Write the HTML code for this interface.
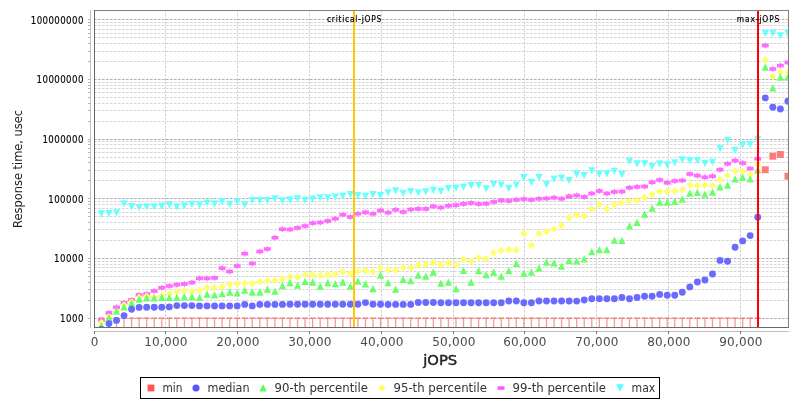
<!DOCTYPE html><html><head><meta charset="utf-8"><style>html,body{margin:0;padding:0;background:#fff;overflow:hidden}svg{display:block}</style></head><body><svg width="800" height="400" viewBox="0 0 800 400"><rect x="0" y="0" width="800" height="400" fill="#fff"/><g><line x1="94" y1="318.5" x2="788" y2="318.5" stroke="#b0b0b0" stroke-width="1" stroke-dasharray="2.6,1.4"/><line x1="88" y1="318.5" x2="90" y2="318.5" stroke="#b4b4b4" stroke-width="1"/><line x1="94" y1="300.5" x2="788" y2="300.5" stroke="#d5d5d5" stroke-width="1" stroke-dasharray="2.6,1.4"/><line x1="88" y1="300.5" x2="90" y2="300.5" stroke="#b4b4b4" stroke-width="1"/><line x1="94" y1="289.5" x2="788" y2="289.5" stroke="#d5d5d5" stroke-width="1" stroke-dasharray="2.6,1.4"/><line x1="88" y1="289.5" x2="90" y2="289.5" stroke="#b4b4b4" stroke-width="1"/><line x1="94" y1="282.5" x2="788" y2="282.5" stroke="#d5d5d5" stroke-width="1" stroke-dasharray="2.6,1.4"/><line x1="88" y1="282.5" x2="90" y2="282.5" stroke="#b4b4b4" stroke-width="1"/><line x1="94" y1="276.5" x2="788" y2="276.5" stroke="#d5d5d5" stroke-width="1" stroke-dasharray="2.6,1.4"/><line x1="88" y1="276.5" x2="90" y2="276.5" stroke="#b4b4b4" stroke-width="1"/><line x1="94" y1="271.5" x2="788" y2="271.5" stroke="#d5d5d5" stroke-width="1" stroke-dasharray="2.6,1.4"/><line x1="88" y1="271.5" x2="90" y2="271.5" stroke="#b4b4b4" stroke-width="1"/><line x1="94" y1="267.5" x2="788" y2="267.5" stroke="#d5d5d5" stroke-width="1" stroke-dasharray="2.6,1.4"/><line x1="88" y1="267.5" x2="90" y2="267.5" stroke="#b4b4b4" stroke-width="1"/><line x1="94" y1="264.5" x2="788" y2="264.5" stroke="#d5d5d5" stroke-width="1" stroke-dasharray="2.6,1.4"/><line x1="88" y1="264.5" x2="90" y2="264.5" stroke="#b4b4b4" stroke-width="1"/><line x1="94" y1="261.5" x2="788" y2="261.5" stroke="#d5d5d5" stroke-width="1" stroke-dasharray="2.6,1.4"/><line x1="88" y1="261.5" x2="90" y2="261.5" stroke="#b4b4b4" stroke-width="1"/><line x1="94" y1="258.5" x2="788" y2="258.5" stroke="#b0b0b0" stroke-width="1" stroke-dasharray="2.6,1.4"/><line x1="88" y1="258.5" x2="90" y2="258.5" stroke="#b4b4b4" stroke-width="1"/><line x1="94" y1="240.5" x2="788" y2="240.5" stroke="#d5d5d5" stroke-width="1" stroke-dasharray="2.6,1.4"/><line x1="88" y1="240.5" x2="90" y2="240.5" stroke="#b4b4b4" stroke-width="1"/><line x1="94" y1="229.5" x2="788" y2="229.5" stroke="#d5d5d5" stroke-width="1" stroke-dasharray="2.6,1.4"/><line x1="88" y1="229.5" x2="90" y2="229.5" stroke="#b4b4b4" stroke-width="1"/><line x1="94" y1="222.5" x2="788" y2="222.5" stroke="#d5d5d5" stroke-width="1" stroke-dasharray="2.6,1.4"/><line x1="88" y1="222.5" x2="90" y2="222.5" stroke="#b4b4b4" stroke-width="1"/><line x1="94" y1="216.5" x2="788" y2="216.5" stroke="#d5d5d5" stroke-width="1" stroke-dasharray="2.6,1.4"/><line x1="88" y1="216.5" x2="90" y2="216.5" stroke="#b4b4b4" stroke-width="1"/><line x1="94" y1="212.5" x2="788" y2="212.5" stroke="#d5d5d5" stroke-width="1" stroke-dasharray="2.6,1.4"/><line x1="88" y1="212.5" x2="90" y2="212.5" stroke="#b4b4b4" stroke-width="1"/><line x1="94" y1="208.5" x2="788" y2="208.5" stroke="#d5d5d5" stroke-width="1" stroke-dasharray="2.6,1.4"/><line x1="88" y1="208.5" x2="90" y2="208.5" stroke="#b4b4b4" stroke-width="1"/><line x1="94" y1="204.5" x2="788" y2="204.5" stroke="#d5d5d5" stroke-width="1" stroke-dasharray="2.6,1.4"/><line x1="88" y1="204.5" x2="90" y2="204.5" stroke="#b4b4b4" stroke-width="1"/><line x1="94" y1="201.5" x2="788" y2="201.5" stroke="#d5d5d5" stroke-width="1" stroke-dasharray="2.6,1.4"/><line x1="88" y1="201.5" x2="90" y2="201.5" stroke="#b4b4b4" stroke-width="1"/><line x1="94" y1="198.5" x2="788" y2="198.5" stroke="#b0b0b0" stroke-width="1" stroke-dasharray="2.6,1.4"/><line x1="88" y1="198.5" x2="90" y2="198.5" stroke="#b4b4b4" stroke-width="1"/><line x1="94" y1="180.5" x2="788" y2="180.5" stroke="#d5d5d5" stroke-width="1" stroke-dasharray="2.6,1.4"/><line x1="88" y1="180.5" x2="90" y2="180.5" stroke="#b4b4b4" stroke-width="1"/><line x1="94" y1="170.5" x2="788" y2="170.5" stroke="#d5d5d5" stroke-width="1" stroke-dasharray="2.6,1.4"/><line x1="88" y1="170.5" x2="90" y2="170.5" stroke="#b4b4b4" stroke-width="1"/><line x1="94" y1="162.5" x2="788" y2="162.5" stroke="#d5d5d5" stroke-width="1" stroke-dasharray="2.6,1.4"/><line x1="88" y1="162.5" x2="90" y2="162.5" stroke="#b4b4b4" stroke-width="1"/><line x1="94" y1="157.5" x2="788" y2="157.5" stroke="#d5d5d5" stroke-width="1" stroke-dasharray="2.6,1.4"/><line x1="88" y1="157.5" x2="90" y2="157.5" stroke="#b4b4b4" stroke-width="1"/><line x1="94" y1="152.5" x2="788" y2="152.5" stroke="#d5d5d5" stroke-width="1" stroke-dasharray="2.6,1.4"/><line x1="88" y1="152.5" x2="90" y2="152.5" stroke="#b4b4b4" stroke-width="1"/><line x1="94" y1="148.5" x2="788" y2="148.5" stroke="#d5d5d5" stroke-width="1" stroke-dasharray="2.6,1.4"/><line x1="88" y1="148.5" x2="90" y2="148.5" stroke="#b4b4b4" stroke-width="1"/><line x1="94" y1="144.5" x2="788" y2="144.5" stroke="#d5d5d5" stroke-width="1" stroke-dasharray="2.6,1.4"/><line x1="88" y1="144.5" x2="90" y2="144.5" stroke="#b4b4b4" stroke-width="1"/><line x1="94" y1="141.5" x2="788" y2="141.5" stroke="#d5d5d5" stroke-width="1" stroke-dasharray="2.6,1.4"/><line x1="88" y1="141.5" x2="90" y2="141.5" stroke="#b4b4b4" stroke-width="1"/><line x1="94" y1="139.5" x2="788" y2="139.5" stroke="#b0b0b0" stroke-width="1" stroke-dasharray="2.6,1.4"/><line x1="88" y1="139.5" x2="90" y2="139.5" stroke="#b4b4b4" stroke-width="1"/><line x1="94" y1="121.5" x2="788" y2="121.5" stroke="#d5d5d5" stroke-width="1" stroke-dasharray="2.6,1.4"/><line x1="88" y1="121.5" x2="90" y2="121.5" stroke="#b4b4b4" stroke-width="1"/><line x1="94" y1="110.5" x2="788" y2="110.5" stroke="#d5d5d5" stroke-width="1" stroke-dasharray="2.6,1.4"/><line x1="88" y1="110.5" x2="90" y2="110.5" stroke="#b4b4b4" stroke-width="1"/><line x1="94" y1="103.5" x2="788" y2="103.5" stroke="#d5d5d5" stroke-width="1" stroke-dasharray="2.6,1.4"/><line x1="88" y1="103.5" x2="90" y2="103.5" stroke="#b4b4b4" stroke-width="1"/><line x1="94" y1="97.5" x2="788" y2="97.5" stroke="#d5d5d5" stroke-width="1" stroke-dasharray="2.6,1.4"/><line x1="88" y1="97.5" x2="90" y2="97.5" stroke="#b4b4b4" stroke-width="1"/><line x1="94" y1="92.5" x2="788" y2="92.5" stroke="#d5d5d5" stroke-width="1" stroke-dasharray="2.6,1.4"/><line x1="88" y1="92.5" x2="90" y2="92.5" stroke="#b4b4b4" stroke-width="1"/><line x1="94" y1="88.5" x2="788" y2="88.5" stroke="#d5d5d5" stroke-width="1" stroke-dasharray="2.6,1.4"/><line x1="88" y1="88.5" x2="90" y2="88.5" stroke="#b4b4b4" stroke-width="1"/><line x1="94" y1="85.5" x2="788" y2="85.5" stroke="#d5d5d5" stroke-width="1" stroke-dasharray="2.6,1.4"/><line x1="88" y1="85.5" x2="90" y2="85.5" stroke="#b4b4b4" stroke-width="1"/><line x1="94" y1="82.5" x2="788" y2="82.5" stroke="#d5d5d5" stroke-width="1" stroke-dasharray="2.6,1.4"/><line x1="88" y1="82.5" x2="90" y2="82.5" stroke="#b4b4b4" stroke-width="1"/><line x1="94" y1="79.5" x2="788" y2="79.5" stroke="#b0b0b0" stroke-width="1" stroke-dasharray="2.6,1.4"/><line x1="88" y1="79.5" x2="90" y2="79.5" stroke="#b4b4b4" stroke-width="1"/><line x1="94" y1="61.5" x2="788" y2="61.5" stroke="#d5d5d5" stroke-width="1" stroke-dasharray="2.6,1.4"/><line x1="88" y1="61.5" x2="90" y2="61.5" stroke="#b4b4b4" stroke-width="1"/><line x1="94" y1="51.5" x2="788" y2="51.5" stroke="#d5d5d5" stroke-width="1" stroke-dasharray="2.6,1.4"/><line x1="88" y1="51.5" x2="90" y2="51.5" stroke="#b4b4b4" stroke-width="1"/><line x1="94" y1="43.5" x2="788" y2="43.5" stroke="#d5d5d5" stroke-width="1" stroke-dasharray="2.6,1.4"/><line x1="88" y1="43.5" x2="90" y2="43.5" stroke="#b4b4b4" stroke-width="1"/><line x1="94" y1="37.5" x2="788" y2="37.5" stroke="#d5d5d5" stroke-width="1" stroke-dasharray="2.6,1.4"/><line x1="88" y1="37.5" x2="90" y2="37.5" stroke="#b4b4b4" stroke-width="1"/><line x1="94" y1="33.5" x2="788" y2="33.5" stroke="#d5d5d5" stroke-width="1" stroke-dasharray="2.6,1.4"/><line x1="88" y1="33.5" x2="90" y2="33.5" stroke="#b4b4b4" stroke-width="1"/><line x1="94" y1="29.5" x2="788" y2="29.5" stroke="#d5d5d5" stroke-width="1" stroke-dasharray="2.6,1.4"/><line x1="88" y1="29.5" x2="90" y2="29.5" stroke="#b4b4b4" stroke-width="1"/><line x1="94" y1="25.5" x2="788" y2="25.5" stroke="#d5d5d5" stroke-width="1" stroke-dasharray="2.6,1.4"/><line x1="88" y1="25.5" x2="90" y2="25.5" stroke="#b4b4b4" stroke-width="1"/><line x1="94" y1="22.5" x2="788" y2="22.5" stroke="#d5d5d5" stroke-width="1" stroke-dasharray="2.6,1.4"/><line x1="88" y1="22.5" x2="90" y2="22.5" stroke="#b4b4b4" stroke-width="1"/><line x1="94" y1="19.5" x2="788" y2="19.5" stroke="#b0b0b0" stroke-width="1" stroke-dasharray="2.6,1.4"/><line x1="88" y1="19.5" x2="90" y2="19.5" stroke="#b4b4b4" stroke-width="1"/><line x1="165.5" y1="10" x2="165.5" y2="327" stroke="#d0d0d0" stroke-width="1" stroke-dasharray="2.6,1.4"/><line x1="237.5" y1="10" x2="237.5" y2="327" stroke="#d0d0d0" stroke-width="1" stroke-dasharray="2.6,1.4"/><line x1="309.5" y1="10" x2="309.5" y2="327" stroke="#d0d0d0" stroke-width="1" stroke-dasharray="2.6,1.4"/><line x1="381.5" y1="10" x2="381.5" y2="327" stroke="#d0d0d0" stroke-width="1" stroke-dasharray="2.6,1.4"/><line x1="453.5" y1="10" x2="453.5" y2="327" stroke="#d0d0d0" stroke-width="1" stroke-dasharray="2.6,1.4"/><line x1="524.5" y1="10" x2="524.5" y2="327" stroke="#d0d0d0" stroke-width="1" stroke-dasharray="2.6,1.4"/><line x1="596.5" y1="10" x2="596.5" y2="327" stroke="#d0d0d0" stroke-width="1" stroke-dasharray="2.6,1.4"/><line x1="668.5" y1="10" x2="668.5" y2="327" stroke="#d0d0d0" stroke-width="1" stroke-dasharray="2.6,1.4"/><line x1="740.5" y1="10" x2="740.5" y2="327" stroke="#d0d0d0" stroke-width="1" stroke-dasharray="2.6,1.4"/></g><svg x="95" y="11" width="693" height="316" viewBox="95 11 693 316" overflow="hidden"><rect x="98.60" y="317.2" width="5.6" height="1.7" fill="#FF5555" fill-opacity="0.55"/><rect x="100.75" y="318.9" width="1.3" height="9" fill="#FF5555" fill-opacity="0.62"/><rect x="106.15" y="317.2" width="5.6" height="1.7" fill="#FF5555" fill-opacity="0.55"/><rect x="108.30" y="318.9" width="1.3" height="9" fill="#FF5555" fill-opacity="0.62"/><rect x="113.69" y="317.2" width="5.6" height="1.7" fill="#FF5555" fill-opacity="0.55"/><rect x="115.84" y="318.9" width="1.3" height="9" fill="#FF5555" fill-opacity="0.62"/><rect x="121.24" y="317.2" width="5.6" height="1.7" fill="#FF5555" fill-opacity="0.55"/><rect x="123.39" y="318.9" width="1.3" height="9" fill="#FF5555" fill-opacity="0.62"/><rect x="128.78" y="317.2" width="5.6" height="1.7" fill="#FF5555" fill-opacity="0.55"/><rect x="130.93" y="318.9" width="1.3" height="9" fill="#FF5555" fill-opacity="0.62"/><rect x="136.32" y="317.2" width="5.6" height="1.7" fill="#FF5555" fill-opacity="0.55"/><rect x="138.47" y="318.9" width="1.3" height="9" fill="#FF5555" fill-opacity="0.62"/><rect x="143.87" y="317.2" width="5.6" height="1.7" fill="#FF5555" fill-opacity="0.55"/><rect x="146.02" y="318.9" width="1.3" height="9" fill="#FF5555" fill-opacity="0.62"/><rect x="151.41" y="317.2" width="5.6" height="1.7" fill="#FF5555" fill-opacity="0.55"/><rect x="153.56" y="318.9" width="1.3" height="9" fill="#FF5555" fill-opacity="0.62"/><rect x="158.96" y="317.2" width="5.6" height="1.7" fill="#FF5555" fill-opacity="0.55"/><rect x="161.11" y="318.9" width="1.3" height="9" fill="#FF5555" fill-opacity="0.62"/><rect x="166.50" y="317.2" width="5.6" height="1.7" fill="#FF5555" fill-opacity="0.55"/><rect x="168.65" y="318.9" width="1.3" height="9" fill="#FF5555" fill-opacity="0.62"/><rect x="174.04" y="317.2" width="5.6" height="1.7" fill="#FF5555" fill-opacity="0.55"/><rect x="176.19" y="318.9" width="1.3" height="9" fill="#FF5555" fill-opacity="0.62"/><rect x="181.59" y="317.2" width="5.6" height="1.7" fill="#FF5555" fill-opacity="0.55"/><rect x="183.74" y="318.9" width="1.3" height="9" fill="#FF5555" fill-opacity="0.62"/><rect x="189.13" y="317.2" width="5.6" height="1.7" fill="#FF5555" fill-opacity="0.55"/><rect x="191.28" y="318.9" width="1.3" height="9" fill="#FF5555" fill-opacity="0.62"/><rect x="196.68" y="317.2" width="5.6" height="1.7" fill="#FF5555" fill-opacity="0.55"/><rect x="198.83" y="318.9" width="1.3" height="9" fill="#FF5555" fill-opacity="0.62"/><rect x="204.22" y="317.2" width="5.6" height="1.7" fill="#FF5555" fill-opacity="0.55"/><rect x="206.37" y="318.9" width="1.3" height="9" fill="#FF5555" fill-opacity="0.62"/><rect x="211.76" y="317.2" width="5.6" height="1.7" fill="#FF5555" fill-opacity="0.55"/><rect x="213.91" y="318.9" width="1.3" height="9" fill="#FF5555" fill-opacity="0.62"/><rect x="219.31" y="317.2" width="5.6" height="1.7" fill="#FF5555" fill-opacity="0.55"/><rect x="221.46" y="318.9" width="1.3" height="9" fill="#FF5555" fill-opacity="0.62"/><rect x="226.85" y="317.2" width="5.6" height="1.7" fill="#FF5555" fill-opacity="0.55"/><rect x="229.00" y="318.9" width="1.3" height="9" fill="#FF5555" fill-opacity="0.62"/><rect x="234.40" y="317.2" width="5.6" height="1.7" fill="#FF5555" fill-opacity="0.55"/><rect x="236.55" y="318.9" width="1.3" height="9" fill="#FF5555" fill-opacity="0.62"/><rect x="241.94" y="317.2" width="5.6" height="1.7" fill="#FF5555" fill-opacity="0.55"/><rect x="244.09" y="318.9" width="1.3" height="9" fill="#FF5555" fill-opacity="0.62"/><rect x="249.48" y="317.2" width="5.6" height="1.7" fill="#FF5555" fill-opacity="0.55"/><rect x="251.63" y="318.9" width="1.3" height="9" fill="#FF5555" fill-opacity="0.62"/><rect x="257.03" y="317.2" width="5.6" height="1.7" fill="#FF5555" fill-opacity="0.55"/><rect x="259.18" y="318.9" width="1.3" height="9" fill="#FF5555" fill-opacity="0.62"/><rect x="264.57" y="317.2" width="5.6" height="1.7" fill="#FF5555" fill-opacity="0.55"/><rect x="266.72" y="318.9" width="1.3" height="9" fill="#FF5555" fill-opacity="0.62"/><rect x="272.12" y="317.2" width="5.6" height="1.7" fill="#FF5555" fill-opacity="0.55"/><rect x="274.27" y="318.9" width="1.3" height="9" fill="#FF5555" fill-opacity="0.62"/><rect x="279.66" y="317.2" width="5.6" height="1.7" fill="#FF5555" fill-opacity="0.55"/><rect x="281.81" y="318.9" width="1.3" height="9" fill="#FF5555" fill-opacity="0.62"/><rect x="287.20" y="317.2" width="5.6" height="1.7" fill="#FF5555" fill-opacity="0.55"/><rect x="289.35" y="318.9" width="1.3" height="9" fill="#FF5555" fill-opacity="0.62"/><rect x="294.75" y="317.2" width="5.6" height="1.7" fill="#FF5555" fill-opacity="0.55"/><rect x="296.90" y="318.9" width="1.3" height="9" fill="#FF5555" fill-opacity="0.62"/><rect x="302.29" y="317.2" width="5.6" height="1.7" fill="#FF5555" fill-opacity="0.55"/><rect x="304.44" y="318.9" width="1.3" height="9" fill="#FF5555" fill-opacity="0.62"/><rect x="309.84" y="317.2" width="5.6" height="1.7" fill="#FF5555" fill-opacity="0.55"/><rect x="311.99" y="318.9" width="1.3" height="9" fill="#FF5555" fill-opacity="0.62"/><rect x="317.38" y="317.2" width="5.6" height="1.7" fill="#FF5555" fill-opacity="0.55"/><rect x="319.53" y="318.9" width="1.3" height="9" fill="#FF5555" fill-opacity="0.62"/><rect x="324.92" y="317.2" width="5.6" height="1.7" fill="#FF5555" fill-opacity="0.55"/><rect x="327.07" y="318.9" width="1.3" height="9" fill="#FF5555" fill-opacity="0.62"/><rect x="332.47" y="317.2" width="5.6" height="1.7" fill="#FF5555" fill-opacity="0.55"/><rect x="334.62" y="318.9" width="1.3" height="9" fill="#FF5555" fill-opacity="0.62"/><rect x="340.01" y="317.2" width="5.6" height="1.7" fill="#FF5555" fill-opacity="0.55"/><rect x="342.16" y="318.9" width="1.3" height="9" fill="#FF5555" fill-opacity="0.62"/><rect x="347.56" y="317.2" width="5.6" height="1.7" fill="#FF5555" fill-opacity="0.55"/><rect x="349.71" y="318.9" width="1.3" height="9" fill="#FF5555" fill-opacity="0.62"/><rect x="355.10" y="317.2" width="5.6" height="1.7" fill="#FF5555" fill-opacity="0.55"/><rect x="357.25" y="318.9" width="1.3" height="9" fill="#FF5555" fill-opacity="0.62"/><rect x="362.64" y="317.2" width="5.6" height="1.7" fill="#FF5555" fill-opacity="0.55"/><rect x="364.79" y="318.9" width="1.3" height="9" fill="#FF5555" fill-opacity="0.62"/><rect x="370.19" y="317.2" width="5.6" height="1.7" fill="#FF5555" fill-opacity="0.55"/><rect x="372.34" y="318.9" width="1.3" height="9" fill="#FF5555" fill-opacity="0.62"/><rect x="377.73" y="317.2" width="5.6" height="1.7" fill="#FF5555" fill-opacity="0.55"/><rect x="379.88" y="318.9" width="1.3" height="9" fill="#FF5555" fill-opacity="0.62"/><rect x="385.28" y="317.2" width="5.6" height="1.7" fill="#FF5555" fill-opacity="0.55"/><rect x="387.43" y="318.9" width="1.3" height="9" fill="#FF5555" fill-opacity="0.62"/><rect x="392.82" y="317.2" width="5.6" height="1.7" fill="#FF5555" fill-opacity="0.55"/><rect x="394.97" y="318.9" width="1.3" height="9" fill="#FF5555" fill-opacity="0.62"/><rect x="400.36" y="317.2" width="5.6" height="1.7" fill="#FF5555" fill-opacity="0.55"/><rect x="402.51" y="318.9" width="1.3" height="9" fill="#FF5555" fill-opacity="0.62"/><rect x="407.91" y="317.2" width="5.6" height="1.7" fill="#FF5555" fill-opacity="0.55"/><rect x="410.06" y="318.9" width="1.3" height="9" fill="#FF5555" fill-opacity="0.62"/><rect x="415.45" y="317.2" width="5.6" height="1.7" fill="#FF5555" fill-opacity="0.55"/><rect x="417.60" y="318.9" width="1.3" height="9" fill="#FF5555" fill-opacity="0.62"/><rect x="423.00" y="317.2" width="5.6" height="1.7" fill="#FF5555" fill-opacity="0.55"/><rect x="425.15" y="318.9" width="1.3" height="9" fill="#FF5555" fill-opacity="0.62"/><rect x="430.54" y="317.2" width="5.6" height="1.7" fill="#FF5555" fill-opacity="0.55"/><rect x="432.69" y="318.9" width="1.3" height="9" fill="#FF5555" fill-opacity="0.62"/><rect x="438.08" y="317.2" width="5.6" height="1.7" fill="#FF5555" fill-opacity="0.55"/><rect x="440.23" y="318.9" width="1.3" height="9" fill="#FF5555" fill-opacity="0.62"/><rect x="445.63" y="317.2" width="5.6" height="1.7" fill="#FF5555" fill-opacity="0.55"/><rect x="447.78" y="318.9" width="1.3" height="9" fill="#FF5555" fill-opacity="0.62"/><rect x="453.17" y="317.2" width="5.6" height="1.7" fill="#FF5555" fill-opacity="0.55"/><rect x="455.32" y="318.9" width="1.3" height="9" fill="#FF5555" fill-opacity="0.62"/><rect x="460.72" y="317.2" width="5.6" height="1.7" fill="#FF5555" fill-opacity="0.55"/><rect x="462.87" y="318.9" width="1.3" height="9" fill="#FF5555" fill-opacity="0.62"/><rect x="468.26" y="317.2" width="5.6" height="1.7" fill="#FF5555" fill-opacity="0.55"/><rect x="470.41" y="318.9" width="1.3" height="9" fill="#FF5555" fill-opacity="0.62"/><rect x="475.80" y="317.2" width="5.6" height="1.7" fill="#FF5555" fill-opacity="0.55"/><rect x="477.95" y="318.9" width="1.3" height="9" fill="#FF5555" fill-opacity="0.62"/><rect x="483.35" y="317.2" width="5.6" height="1.7" fill="#FF5555" fill-opacity="0.55"/><rect x="485.50" y="318.9" width="1.3" height="9" fill="#FF5555" fill-opacity="0.62"/><rect x="490.89" y="317.2" width="5.6" height="1.7" fill="#FF5555" fill-opacity="0.55"/><rect x="493.04" y="318.9" width="1.3" height="9" fill="#FF5555" fill-opacity="0.62"/><rect x="498.44" y="317.2" width="5.6" height="1.7" fill="#FF5555" fill-opacity="0.55"/><rect x="500.59" y="318.9" width="1.3" height="9" fill="#FF5555" fill-opacity="0.62"/><rect x="505.98" y="317.2" width="5.6" height="1.7" fill="#FF5555" fill-opacity="0.55"/><rect x="508.13" y="318.9" width="1.3" height="9" fill="#FF5555" fill-opacity="0.62"/><rect x="513.52" y="317.2" width="5.6" height="1.7" fill="#FF5555" fill-opacity="0.55"/><rect x="515.67" y="318.9" width="1.3" height="9" fill="#FF5555" fill-opacity="0.62"/><rect x="521.07" y="317.2" width="5.6" height="1.7" fill="#FF5555" fill-opacity="0.55"/><rect x="523.22" y="318.9" width="1.3" height="9" fill="#FF5555" fill-opacity="0.62"/><rect x="528.61" y="317.2" width="5.6" height="1.7" fill="#FF5555" fill-opacity="0.55"/><rect x="530.76" y="318.9" width="1.3" height="9" fill="#FF5555" fill-opacity="0.62"/><rect x="536.16" y="317.2" width="5.6" height="1.7" fill="#FF5555" fill-opacity="0.55"/><rect x="538.31" y="318.9" width="1.3" height="9" fill="#FF5555" fill-opacity="0.62"/><rect x="543.70" y="317.2" width="5.6" height="1.7" fill="#FF5555" fill-opacity="0.55"/><rect x="545.85" y="318.9" width="1.3" height="9" fill="#FF5555" fill-opacity="0.62"/><rect x="551.24" y="317.2" width="5.6" height="1.7" fill="#FF5555" fill-opacity="0.55"/><rect x="553.39" y="318.9" width="1.3" height="9" fill="#FF5555" fill-opacity="0.62"/><rect x="558.79" y="317.2" width="5.6" height="1.7" fill="#FF5555" fill-opacity="0.55"/><rect x="560.94" y="318.9" width="1.3" height="9" fill="#FF5555" fill-opacity="0.62"/><rect x="566.33" y="317.2" width="5.6" height="1.7" fill="#FF5555" fill-opacity="0.55"/><rect x="568.48" y="318.9" width="1.3" height="9" fill="#FF5555" fill-opacity="0.62"/><rect x="573.88" y="317.2" width="5.6" height="1.7" fill="#FF5555" fill-opacity="0.55"/><rect x="576.03" y="318.9" width="1.3" height="9" fill="#FF5555" fill-opacity="0.62"/><rect x="581.42" y="317.2" width="5.6" height="1.7" fill="#FF5555" fill-opacity="0.55"/><rect x="583.57" y="318.9" width="1.3" height="9" fill="#FF5555" fill-opacity="0.62"/><rect x="588.96" y="317.2" width="5.6" height="1.7" fill="#FF5555" fill-opacity="0.55"/><rect x="591.11" y="318.9" width="1.3" height="9" fill="#FF5555" fill-opacity="0.62"/><rect x="596.51" y="317.2" width="5.6" height="1.7" fill="#FF5555" fill-opacity="0.55"/><rect x="598.66" y="318.9" width="1.3" height="9" fill="#FF5555" fill-opacity="0.62"/><rect x="604.05" y="317.2" width="5.6" height="1.7" fill="#FF5555" fill-opacity="0.55"/><rect x="606.20" y="318.9" width="1.3" height="9" fill="#FF5555" fill-opacity="0.62"/><rect x="611.60" y="317.2" width="5.6" height="1.7" fill="#FF5555" fill-opacity="0.55"/><rect x="613.75" y="318.9" width="1.3" height="9" fill="#FF5555" fill-opacity="0.62"/><rect x="619.14" y="317.2" width="5.6" height="1.7" fill="#FF5555" fill-opacity="0.55"/><rect x="621.29" y="318.9" width="1.3" height="9" fill="#FF5555" fill-opacity="0.62"/><rect x="626.68" y="317.2" width="5.6" height="1.7" fill="#FF5555" fill-opacity="0.55"/><rect x="628.83" y="318.9" width="1.3" height="9" fill="#FF5555" fill-opacity="0.62"/><rect x="634.23" y="317.2" width="5.6" height="1.7" fill="#FF5555" fill-opacity="0.55"/><rect x="636.38" y="318.9" width="1.3" height="9" fill="#FF5555" fill-opacity="0.62"/><rect x="641.77" y="317.2" width="5.6" height="1.7" fill="#FF5555" fill-opacity="0.55"/><rect x="643.92" y="318.9" width="1.3" height="9" fill="#FF5555" fill-opacity="0.62"/><rect x="649.32" y="317.2" width="5.6" height="1.7" fill="#FF5555" fill-opacity="0.55"/><rect x="651.47" y="318.9" width="1.3" height="9" fill="#FF5555" fill-opacity="0.62"/><rect x="656.86" y="317.2" width="5.6" height="1.7" fill="#FF5555" fill-opacity="0.55"/><rect x="659.01" y="318.9" width="1.3" height="9" fill="#FF5555" fill-opacity="0.62"/><rect x="664.40" y="317.2" width="5.6" height="1.7" fill="#FF5555" fill-opacity="0.55"/><rect x="666.55" y="318.9" width="1.3" height="9" fill="#FF5555" fill-opacity="0.62"/><rect x="671.95" y="317.2" width="5.6" height="1.7" fill="#FF5555" fill-opacity="0.55"/><rect x="674.10" y="318.9" width="1.3" height="9" fill="#FF5555" fill-opacity="0.62"/><rect x="679.49" y="317.2" width="5.6" height="1.7" fill="#FF5555" fill-opacity="0.55"/><rect x="681.64" y="318.9" width="1.3" height="9" fill="#FF5555" fill-opacity="0.62"/><rect x="687.04" y="317.2" width="5.6" height="1.7" fill="#FF5555" fill-opacity="0.55"/><rect x="689.19" y="318.9" width="1.3" height="9" fill="#FF5555" fill-opacity="0.62"/><rect x="694.58" y="317.2" width="5.6" height="1.7" fill="#FF5555" fill-opacity="0.55"/><rect x="696.73" y="318.9" width="1.3" height="9" fill="#FF5555" fill-opacity="0.62"/><rect x="702.12" y="317.2" width="5.6" height="1.7" fill="#FF5555" fill-opacity="0.55"/><rect x="704.27" y="318.9" width="1.3" height="9" fill="#FF5555" fill-opacity="0.62"/><rect x="709.67" y="317.2" width="5.6" height="1.7" fill="#FF5555" fill-opacity="0.55"/><rect x="711.82" y="318.9" width="1.3" height="9" fill="#FF5555" fill-opacity="0.62"/><rect x="717.21" y="317.2" width="5.6" height="1.7" fill="#FF5555" fill-opacity="0.55"/><rect x="719.36" y="318.9" width="1.3" height="9" fill="#FF5555" fill-opacity="0.62"/><rect x="724.76" y="317.2" width="5.6" height="1.7" fill="#FF5555" fill-opacity="0.55"/><rect x="726.91" y="318.9" width="1.3" height="9" fill="#FF5555" fill-opacity="0.62"/><rect x="732.30" y="317.2" width="5.6" height="1.7" fill="#FF5555" fill-opacity="0.55"/><rect x="734.45" y="318.9" width="1.3" height="9" fill="#FF5555" fill-opacity="0.62"/><rect x="739.84" y="317.2" width="5.6" height="1.7" fill="#FF5555" fill-opacity="0.55"/><rect x="741.99" y="318.9" width="1.3" height="9" fill="#FF5555" fill-opacity="0.62"/><rect x="747.39" y="317.2" width="5.6" height="1.7" fill="#FF5555" fill-opacity="0.55"/><rect x="749.54" y="318.9" width="1.3" height="9" fill="#FF5555" fill-opacity="0.62"/><rect x="754.93" y="317.2" width="5.6" height="1.7" fill="#FF5555" fill-opacity="0.55"/><rect x="757.08" y="318.9" width="1.3" height="9" fill="#FF5555" fill-opacity="0.62"/><g><path d="M101.40 217.60L105.05 210.30L97.75 210.30Z" fill="#6AFFFF"/><path d="M108.95 217.25L112.60 209.95L105.30 209.95Z" fill="#6AFFFF"/><path d="M116.49 216.55L120.14 209.25L112.84 209.25Z" fill="#6AFFFF"/><path d="M124.04 207.45L127.69 200.15L120.39 200.15Z" fill="#6AFFFF"/><path d="M131.58 210.25L135.23 202.95L127.93 202.95Z" fill="#6AFFFF"/><path d="M139.12 211.25L142.77 203.95L135.47 203.95Z" fill="#6AFFFF"/><path d="M146.67 210.45L150.32 203.15L143.02 203.15Z" fill="#6AFFFF"/><path d="M154.21 210.45L157.86 203.15L150.56 203.15Z" fill="#6AFFFF"/><path d="M161.76 210.10L165.41 202.80L158.11 202.80Z" fill="#6AFFFF"/><path d="M169.30 208.45L172.95 201.15L165.65 201.15Z" fill="#6AFFFF"/><path d="M176.84 210.45L180.49 203.15L173.19 203.15Z" fill="#6AFFFF"/><path d="M184.39 209.45L188.04 202.15L180.74 202.15Z" fill="#6AFFFF"/><path d="M191.93 208.10L195.58 200.80L188.28 200.80Z" fill="#6AFFFF"/><path d="M199.48 208.65L203.13 201.35L195.83 201.35Z" fill="#6AFFFF"/><path d="M207.02 206.85L210.67 199.55L203.37 199.55Z" fill="#6AFFFF"/><path d="M214.56 207.45L218.21 200.15L210.91 200.15Z" fill="#6AFFFF"/><path d="M222.11 205.25L225.76 197.95L218.46 197.95Z" fill="#6AFFFF"/><path d="M229.65 208.10L233.30 200.80L226.00 200.80Z" fill="#6AFFFF"/><path d="M237.20 205.60L240.85 198.30L233.55 198.30Z" fill="#6AFFFF"/><path d="M244.74 208.55L248.39 201.25L241.09 201.25Z" fill="#6AFFFF"/><path d="M252.28 204.35L255.93 197.05L248.63 197.05Z" fill="#6AFFFF"/><path d="M259.83 204.35L263.48 197.05L256.18 197.05Z" fill="#6AFFFF"/><path d="M267.37 204.35L271.02 197.05L263.72 197.05Z" fill="#6AFFFF"/><path d="M274.92 202.60L278.57 195.30L271.27 195.30Z" fill="#6AFFFF"/><path d="M282.46 204.45L286.11 197.15L278.81 197.15Z" fill="#6AFFFF"/><path d="M290.00 203.65L293.65 196.35L286.35 196.35Z" fill="#6AFFFF"/><path d="M297.55 202.45L301.20 195.15L293.90 195.15Z" fill="#6AFFFF"/><path d="M305.09 204.05L308.74 196.75L301.44 196.75Z" fill="#6AFFFF"/><path d="M312.64 202.85L316.29 195.55L308.99 195.55Z" fill="#6AFFFF"/><path d="M320.18 201.55L323.83 194.25L316.53 194.25Z" fill="#6AFFFF"/><path d="M327.72 201.65L331.37 194.35L324.07 194.35Z" fill="#6AFFFF"/><path d="M335.27 200.85L338.92 193.55L331.62 193.55Z" fill="#6AFFFF"/><path d="M342.81 199.95L346.46 192.65L339.16 192.65Z" fill="#6AFFFF"/><path d="M350.36 198.35L354.01 191.05L346.71 191.05Z" fill="#6AFFFF"/><path d="M357.90 199.35L361.55 192.05L354.25 192.05Z" fill="#6AFFFF"/><path d="M365.44 199.95L369.09 192.65L361.79 192.65Z" fill="#6AFFFF"/><path d="M372.99 198.35L376.64 191.05L369.34 191.05Z" fill="#6AFFFF"/><path d="M380.53 199.25L384.18 191.95L376.88 191.95Z" fill="#6AFFFF"/><path d="M388.08 196.60L391.73 189.30L384.43 189.30Z" fill="#6AFFFF"/><path d="M395.62 194.45L399.27 187.15L391.97 187.15Z" fill="#6AFFFF"/><path d="M403.16 197.05L406.81 189.75L399.51 189.75Z" fill="#6AFFFF"/><path d="M410.71 195.25L414.36 187.95L407.06 187.95Z" fill="#6AFFFF"/><path d="M418.25 196.60L421.90 189.30L414.60 189.30Z" fill="#6AFFFF"/><path d="M425.80 195.45L429.45 188.15L422.15 188.15Z" fill="#6AFFFF"/><path d="M433.34 194.10L436.99 186.80L429.69 186.80Z" fill="#6AFFFF"/><path d="M440.88 195.05L444.53 187.75L437.23 187.75Z" fill="#6AFFFF"/><path d="M448.43 192.25L452.08 184.95L444.78 184.95Z" fill="#6AFFFF"/><path d="M455.97 191.75L459.62 184.45L452.32 184.45Z" fill="#6AFFFF"/><path d="M463.52 191.05L467.17 183.75L459.87 183.75Z" fill="#6AFFFF"/><path d="M471.06 189.15L474.71 181.85L467.41 181.85Z" fill="#6AFFFF"/><path d="M478.60 189.10L482.25 181.80L474.95 181.80Z" fill="#6AFFFF"/><path d="M486.15 192.45L489.80 185.15L482.50 185.15Z" fill="#6AFFFF"/><path d="M493.69 188.35L497.34 181.05L490.04 181.05Z" fill="#6AFFFF"/><path d="M501.24 188.75L504.89 181.45L497.59 181.45Z" fill="#6AFFFF"/><path d="M508.78 192.15L512.43 184.85L505.13 184.85Z" fill="#6AFFFF"/><path d="M516.32 188.75L519.97 181.45L512.67 181.45Z" fill="#6AFFFF"/><path d="M523.87 181.25L527.52 173.95L520.22 173.95Z" fill="#6AFFFF"/><path d="M531.41 185.95L535.06 178.65L527.76 178.65Z" fill="#6AFFFF"/><path d="M538.96 181.25L542.61 173.95L535.31 173.95Z" fill="#6AFFFF"/><path d="M546.50 188.25L550.15 180.95L542.85 180.95Z" fill="#6AFFFF"/><path d="M554.04 182.75L557.69 175.45L550.39 175.45Z" fill="#6AFFFF"/><path d="M561.59 181.85L565.24 174.55L557.94 174.55Z" fill="#6AFFFF"/><path d="M569.13 184.35L572.78 177.05L565.48 177.05Z" fill="#6AFFFF"/><path d="M576.68 178.15L580.33 170.85L573.03 170.85Z" fill="#6AFFFF"/><path d="M584.22 179.35L587.87 172.05L580.57 172.05Z" fill="#6AFFFF"/><path d="M591.76 174.60L595.41 167.30L588.11 167.30Z" fill="#6AFFFF"/><path d="M599.31 178.10L602.96 170.80L595.66 170.80Z" fill="#6AFFFF"/><path d="M606.85 177.45L610.50 170.15L603.20 170.15Z" fill="#6AFFFF"/><path d="M614.40 174.95L618.05 167.65L610.75 167.65Z" fill="#6AFFFF"/><path d="M621.94 178.35L625.59 171.05L618.29 171.05Z" fill="#6AFFFF"/><path d="M629.48 164.95L633.13 157.65L625.83 157.65Z" fill="#6AFFFF"/><path d="M637.03 167.60L640.68 160.30L633.38 160.30Z" fill="#6AFFFF"/><path d="M644.57 167.60L648.22 160.30L640.92 160.30Z" fill="#6AFFFF"/><path d="M652.12 170.25L655.77 162.95L648.47 162.95Z" fill="#6AFFFF"/><path d="M659.66 167.45L663.31 160.15L656.01 160.15Z" fill="#6AFFFF"/><path d="M667.20 168.65L670.85 161.35L663.55 161.35Z" fill="#6AFFFF"/><path d="M674.75 166.45L678.40 159.15L671.10 159.15Z" fill="#6AFFFF"/><path d="M682.29 163.55L685.94 156.25L678.64 156.25Z" fill="#6AFFFF"/><path d="M689.84 164.35L693.49 157.05L686.19 157.05Z" fill="#6AFFFF"/><path d="M697.38 164.35L701.03 157.05L693.73 157.05Z" fill="#6AFFFF"/><path d="M704.92 167.15L708.57 159.85L701.27 159.85Z" fill="#6AFFFF"/><path d="M712.47 166.05L716.12 158.75L708.82 158.75Z" fill="#6AFFFF"/><path d="M720.01 152.25L723.66 144.95L716.36 144.95Z" fill="#6AFFFF"/><path d="M727.56 144.05L731.21 136.75L723.91 136.75Z" fill="#6AFFFF"/><path d="M735.10 154.05L738.75 146.75L731.45 146.75Z" fill="#6AFFFF"/><path d="M742.64 148.75L746.29 141.45L738.99 141.45Z" fill="#6AFFFF"/><path d="M750.19 148.25L753.84 140.95L746.54 140.95Z" fill="#6AFFFF"/><path d="M757.73 143.05L761.38 135.75L754.08 135.75Z" fill="#6AFFFF"/><path d="M765.28 37.35L768.93 30.05L761.63 30.05Z" fill="#6AFFFF"/><path d="M772.82 36.95L776.47 29.65L769.17 29.65Z" fill="#6AFFFF"/><path d="M780.36 39.45L784.01 32.15L776.71 32.15Z" fill="#6AFFFF"/><path d="M787.91 36.95L791.56 29.65L784.26 29.65Z" fill="#6AFFFF"/><rect x="97.95" y="318.60" width="6.9" height="3.6" fill="#FF6AFF"/><rect x="100.80" y="317.60" width="1.2" height="5.6" fill="#FF6AFF"/><rect x="105.50" y="311.10" width="6.9" height="3.6" fill="#FF6AFF"/><rect x="108.35" y="310.10" width="1.2" height="5.6" fill="#FF6AFF"/><rect x="113.04" y="305.50" width="6.9" height="3.6" fill="#FF6AFF"/><rect x="115.89" y="304.50" width="1.2" height="5.6" fill="#FF6AFF"/><rect x="120.59" y="301.00" width="6.9" height="3.6" fill="#FF6AFF"/><rect x="123.44" y="300.00" width="1.2" height="5.6" fill="#FF6AFF"/><rect x="128.13" y="298.10" width="6.9" height="3.6" fill="#FF6AFF"/><rect x="130.98" y="297.10" width="1.2" height="5.6" fill="#FF6AFF"/><rect x="135.67" y="293.20" width="6.9" height="3.6" fill="#FF6AFF"/><rect x="138.52" y="292.20" width="1.2" height="5.6" fill="#FF6AFF"/><rect x="143.22" y="292.20" width="6.9" height="3.6" fill="#FF6AFF"/><rect x="146.07" y="291.20" width="1.2" height="5.6" fill="#FF6AFF"/><rect x="150.76" y="289.20" width="6.9" height="3.6" fill="#FF6AFF"/><rect x="153.61" y="288.20" width="1.2" height="5.6" fill="#FF6AFF"/><rect x="158.31" y="285.95" width="6.9" height="3.6" fill="#FF6AFF"/><rect x="161.16" y="284.95" width="1.2" height="5.6" fill="#FF6AFF"/><rect x="165.85" y="284.20" width="6.9" height="3.6" fill="#FF6AFF"/><rect x="168.70" y="283.20" width="1.2" height="5.6" fill="#FF6AFF"/><rect x="173.39" y="282.95" width="6.9" height="3.6" fill="#FF6AFF"/><rect x="176.24" y="281.95" width="1.2" height="5.6" fill="#FF6AFF"/><rect x="180.94" y="282.20" width="6.9" height="3.6" fill="#FF6AFF"/><rect x="183.79" y="281.20" width="1.2" height="5.6" fill="#FF6AFF"/><rect x="188.48" y="280.70" width="6.9" height="3.6" fill="#FF6AFF"/><rect x="191.33" y="279.70" width="1.2" height="5.6" fill="#FF6AFF"/><rect x="196.03" y="276.50" width="6.9" height="3.6" fill="#FF6AFF"/><rect x="198.88" y="275.50" width="1.2" height="5.6" fill="#FF6AFF"/><rect x="203.57" y="276.50" width="6.9" height="3.6" fill="#FF6AFF"/><rect x="206.42" y="275.50" width="1.2" height="5.6" fill="#FF6AFF"/><rect x="211.11" y="276.10" width="6.9" height="3.6" fill="#FF6AFF"/><rect x="213.96" y="275.10" width="1.2" height="5.6" fill="#FF6AFF"/><rect x="218.66" y="266.30" width="6.9" height="3.6" fill="#FF6AFF"/><rect x="221.51" y="265.30" width="1.2" height="5.6" fill="#FF6AFF"/><rect x="226.20" y="269.75" width="6.9" height="3.6" fill="#FF6AFF"/><rect x="229.05" y="268.75" width="1.2" height="5.6" fill="#FF6AFF"/><rect x="233.75" y="264.20" width="6.9" height="3.6" fill="#FF6AFF"/><rect x="236.60" y="263.20" width="1.2" height="5.6" fill="#FF6AFF"/><rect x="241.29" y="251.95" width="6.9" height="3.6" fill="#FF6AFF"/><rect x="244.14" y="250.95" width="1.2" height="5.6" fill="#FF6AFF"/><rect x="248.83" y="261.70" width="6.9" height="3.6" fill="#FF6AFF"/><rect x="251.68" y="260.70" width="1.2" height="5.6" fill="#FF6AFF"/><rect x="256.38" y="249.70" width="6.9" height="3.6" fill="#FF6AFF"/><rect x="259.23" y="248.70" width="1.2" height="5.6" fill="#FF6AFF"/><rect x="263.92" y="247.20" width="6.9" height="3.6" fill="#FF6AFF"/><rect x="266.77" y="246.20" width="1.2" height="5.6" fill="#FF6AFF"/><rect x="271.47" y="235.95" width="6.9" height="3.6" fill="#FF6AFF"/><rect x="274.32" y="234.95" width="1.2" height="5.6" fill="#FF6AFF"/><rect x="279.01" y="227.40" width="6.9" height="3.6" fill="#FF6AFF"/><rect x="281.86" y="226.40" width="1.2" height="5.6" fill="#FF6AFF"/><rect x="286.55" y="227.70" width="6.9" height="3.6" fill="#FF6AFF"/><rect x="289.40" y="226.70" width="1.2" height="5.6" fill="#FF6AFF"/><rect x="294.10" y="226.10" width="6.9" height="3.6" fill="#FF6AFF"/><rect x="296.95" y="225.10" width="1.2" height="5.6" fill="#FF6AFF"/><rect x="301.64" y="224.20" width="6.9" height="3.6" fill="#FF6AFF"/><rect x="304.49" y="223.20" width="1.2" height="5.6" fill="#FF6AFF"/><rect x="309.19" y="221.30" width="6.9" height="3.6" fill="#FF6AFF"/><rect x="312.04" y="220.30" width="1.2" height="5.6" fill="#FF6AFF"/><rect x="316.73" y="220.70" width="6.9" height="3.6" fill="#FF6AFF"/><rect x="319.58" y="219.70" width="1.2" height="5.6" fill="#FF6AFF"/><rect x="324.27" y="219.20" width="6.9" height="3.6" fill="#FF6AFF"/><rect x="327.12" y="218.20" width="1.2" height="5.6" fill="#FF6AFF"/><rect x="331.82" y="216.95" width="6.9" height="3.6" fill="#FF6AFF"/><rect x="334.67" y="215.95" width="1.2" height="5.6" fill="#FF6AFF"/><rect x="339.36" y="212.95" width="6.9" height="3.6" fill="#FF6AFF"/><rect x="342.21" y="211.95" width="1.2" height="5.6" fill="#FF6AFF"/><rect x="346.91" y="215.20" width="6.9" height="3.6" fill="#FF6AFF"/><rect x="349.76" y="214.20" width="1.2" height="5.6" fill="#FF6AFF"/><rect x="354.45" y="211.95" width="6.9" height="3.6" fill="#FF6AFF"/><rect x="357.30" y="210.95" width="1.2" height="5.6" fill="#FF6AFF"/><rect x="361.99" y="210.45" width="6.9" height="3.6" fill="#FF6AFF"/><rect x="364.84" y="209.45" width="1.2" height="5.6" fill="#FF6AFF"/><rect x="369.54" y="211.95" width="6.9" height="3.6" fill="#FF6AFF"/><rect x="372.39" y="210.95" width="1.2" height="5.6" fill="#FF6AFF"/><rect x="377.08" y="208.80" width="6.9" height="3.6" fill="#FF6AFF"/><rect x="379.93" y="207.80" width="1.2" height="5.6" fill="#FF6AFF"/><rect x="384.63" y="210.80" width="6.9" height="3.6" fill="#FF6AFF"/><rect x="387.48" y="209.80" width="1.2" height="5.6" fill="#FF6AFF"/><rect x="392.17" y="207.95" width="6.9" height="3.6" fill="#FF6AFF"/><rect x="395.02" y="206.95" width="1.2" height="5.6" fill="#FF6AFF"/><rect x="399.71" y="210.20" width="6.9" height="3.6" fill="#FF6AFF"/><rect x="402.56" y="209.20" width="1.2" height="5.6" fill="#FF6AFF"/><rect x="407.26" y="207.70" width="6.9" height="3.6" fill="#FF6AFF"/><rect x="410.11" y="206.70" width="1.2" height="5.6" fill="#FF6AFF"/><rect x="414.80" y="207.10" width="6.9" height="3.6" fill="#FF6AFF"/><rect x="417.65" y="206.10" width="1.2" height="5.6" fill="#FF6AFF"/><rect x="422.35" y="207.10" width="6.9" height="3.6" fill="#FF6AFF"/><rect x="425.20" y="206.10" width="1.2" height="5.6" fill="#FF6AFF"/><rect x="429.89" y="204.60" width="6.9" height="3.6" fill="#FF6AFF"/><rect x="432.74" y="203.60" width="1.2" height="5.6" fill="#FF6AFF"/><rect x="437.43" y="205.80" width="6.9" height="3.6" fill="#FF6AFF"/><rect x="440.28" y="204.80" width="1.2" height="5.6" fill="#FF6AFF"/><rect x="444.98" y="203.95" width="6.9" height="3.6" fill="#FF6AFF"/><rect x="447.83" y="202.95" width="1.2" height="5.6" fill="#FF6AFF"/><rect x="452.52" y="203.30" width="6.9" height="3.6" fill="#FF6AFF"/><rect x="455.37" y="202.30" width="1.2" height="5.6" fill="#FF6AFF"/><rect x="460.07" y="202.10" width="6.9" height="3.6" fill="#FF6AFF"/><rect x="462.92" y="201.10" width="1.2" height="5.6" fill="#FF6AFF"/><rect x="467.61" y="201.20" width="6.9" height="3.6" fill="#FF6AFF"/><rect x="470.46" y="200.20" width="1.2" height="5.6" fill="#FF6AFF"/><rect x="475.15" y="202.20" width="6.9" height="3.6" fill="#FF6AFF"/><rect x="478.00" y="201.20" width="1.2" height="5.6" fill="#FF6AFF"/><rect x="482.70" y="201.95" width="6.9" height="3.6" fill="#FF6AFF"/><rect x="485.55" y="200.95" width="1.2" height="5.6" fill="#FF6AFF"/><rect x="490.24" y="200.10" width="6.9" height="3.6" fill="#FF6AFF"/><rect x="493.09" y="199.10" width="1.2" height="5.6" fill="#FF6AFF"/><rect x="497.79" y="198.80" width="6.9" height="3.6" fill="#FF6AFF"/><rect x="500.64" y="197.80" width="1.2" height="5.6" fill="#FF6AFF"/><rect x="505.33" y="199.10" width="6.9" height="3.6" fill="#FF6AFF"/><rect x="508.18" y="198.10" width="1.2" height="5.6" fill="#FF6AFF"/><rect x="512.87" y="197.95" width="6.9" height="3.6" fill="#FF6AFF"/><rect x="515.72" y="196.95" width="1.2" height="5.6" fill="#FF6AFF"/><rect x="520.42" y="197.30" width="6.9" height="3.6" fill="#FF6AFF"/><rect x="523.27" y="196.30" width="1.2" height="5.6" fill="#FF6AFF"/><rect x="527.96" y="197.95" width="6.9" height="3.6" fill="#FF6AFF"/><rect x="530.81" y="196.95" width="1.2" height="5.6" fill="#FF6AFF"/><rect x="535.51" y="196.95" width="6.9" height="3.6" fill="#FF6AFF"/><rect x="538.36" y="195.95" width="1.2" height="5.6" fill="#FF6AFF"/><rect x="543.05" y="196.70" width="6.9" height="3.6" fill="#FF6AFF"/><rect x="545.90" y="195.70" width="1.2" height="5.6" fill="#FF6AFF"/><rect x="550.59" y="195.95" width="6.9" height="3.6" fill="#FF6AFF"/><rect x="553.44" y="194.95" width="1.2" height="5.6" fill="#FF6AFF"/><rect x="558.14" y="196.95" width="6.9" height="3.6" fill="#FF6AFF"/><rect x="560.99" y="195.95" width="1.2" height="5.6" fill="#FF6AFF"/><rect x="565.68" y="194.45" width="6.9" height="3.6" fill="#FF6AFF"/><rect x="568.53" y="193.45" width="1.2" height="5.6" fill="#FF6AFF"/><rect x="573.23" y="193.60" width="6.9" height="3.6" fill="#FF6AFF"/><rect x="576.08" y="192.60" width="1.2" height="5.6" fill="#FF6AFF"/><rect x="580.77" y="195.10" width="6.9" height="3.6" fill="#FF6AFF"/><rect x="583.62" y="194.10" width="1.2" height="5.6" fill="#FF6AFF"/><rect x="588.31" y="191.70" width="6.9" height="3.6" fill="#FF6AFF"/><rect x="591.16" y="190.70" width="1.2" height="5.6" fill="#FF6AFF"/><rect x="595.86" y="189.20" width="6.9" height="3.6" fill="#FF6AFF"/><rect x="598.71" y="188.20" width="1.2" height="5.6" fill="#FF6AFF"/><rect x="603.40" y="191.70" width="6.9" height="3.6" fill="#FF6AFF"/><rect x="606.25" y="190.70" width="1.2" height="5.6" fill="#FF6AFF"/><rect x="610.95" y="190.10" width="6.9" height="3.6" fill="#FF6AFF"/><rect x="613.80" y="189.10" width="1.2" height="5.6" fill="#FF6AFF"/><rect x="618.49" y="189.80" width="6.9" height="3.6" fill="#FF6AFF"/><rect x="621.34" y="188.80" width="1.2" height="5.6" fill="#FF6AFF"/><rect x="626.03" y="185.95" width="6.9" height="3.6" fill="#FF6AFF"/><rect x="628.88" y="184.95" width="1.2" height="5.6" fill="#FF6AFF"/><rect x="633.58" y="185.10" width="6.9" height="3.6" fill="#FF6AFF"/><rect x="636.43" y="184.10" width="1.2" height="5.6" fill="#FF6AFF"/><rect x="641.12" y="184.70" width="6.9" height="3.6" fill="#FF6AFF"/><rect x="643.97" y="183.70" width="1.2" height="5.6" fill="#FF6AFF"/><rect x="648.67" y="180.45" width="6.9" height="3.6" fill="#FF6AFF"/><rect x="651.52" y="179.45" width="1.2" height="5.6" fill="#FF6AFF"/><rect x="656.21" y="178.20" width="6.9" height="3.6" fill="#FF6AFF"/><rect x="659.06" y="177.20" width="1.2" height="5.6" fill="#FF6AFF"/><rect x="663.75" y="180.95" width="6.9" height="3.6" fill="#FF6AFF"/><rect x="666.60" y="179.95" width="1.2" height="5.6" fill="#FF6AFF"/><rect x="671.30" y="179.20" width="6.9" height="3.6" fill="#FF6AFF"/><rect x="674.15" y="178.20" width="1.2" height="5.6" fill="#FF6AFF"/><rect x="678.84" y="178.70" width="6.9" height="3.6" fill="#FF6AFF"/><rect x="681.69" y="177.70" width="1.2" height="5.6" fill="#FF6AFF"/><rect x="686.39" y="172.20" width="6.9" height="3.6" fill="#FF6AFF"/><rect x="689.24" y="171.20" width="1.2" height="5.6" fill="#FF6AFF"/><rect x="693.93" y="173.80" width="6.9" height="3.6" fill="#FF6AFF"/><rect x="696.78" y="172.80" width="1.2" height="5.6" fill="#FF6AFF"/><rect x="701.47" y="175.45" width="6.9" height="3.6" fill="#FF6AFF"/><rect x="704.32" y="174.45" width="1.2" height="5.6" fill="#FF6AFF"/><rect x="709.02" y="174.45" width="6.9" height="3.6" fill="#FF6AFF"/><rect x="711.87" y="173.45" width="1.2" height="5.6" fill="#FF6AFF"/><rect x="716.56" y="167.95" width="6.9" height="3.6" fill="#FF6AFF"/><rect x="719.41" y="166.95" width="1.2" height="5.6" fill="#FF6AFF"/><rect x="724.11" y="161.95" width="6.9" height="3.6" fill="#FF6AFF"/><rect x="726.96" y="160.95" width="1.2" height="5.6" fill="#FF6AFF"/><rect x="731.65" y="158.80" width="6.9" height="3.6" fill="#FF6AFF"/><rect x="734.50" y="157.80" width="1.2" height="5.6" fill="#FF6AFF"/><rect x="739.19" y="161.30" width="6.9" height="3.6" fill="#FF6AFF"/><rect x="742.04" y="160.30" width="1.2" height="5.6" fill="#FF6AFF"/><rect x="746.74" y="166.70" width="6.9" height="3.6" fill="#FF6AFF"/><rect x="749.59" y="165.70" width="1.2" height="5.6" fill="#FF6AFF"/><rect x="754.28" y="156.95" width="6.9" height="3.6" fill="#FF6AFF"/><rect x="757.13" y="155.95" width="1.2" height="5.6" fill="#FF6AFF"/><rect x="761.83" y="43.80" width="6.9" height="3.6" fill="#FF6AFF"/><rect x="764.68" y="42.80" width="1.2" height="5.6" fill="#FF6AFF"/><rect x="769.37" y="67.20" width="6.9" height="3.6" fill="#FF6AFF"/><rect x="772.22" y="66.20" width="1.2" height="5.6" fill="#FF6AFF"/><rect x="776.91" y="63.80" width="6.9" height="3.6" fill="#FF6AFF"/><rect x="779.76" y="62.80" width="1.2" height="5.6" fill="#FF6AFF"/><rect x="784.46" y="60.70" width="6.9" height="3.6" fill="#FF6AFF"/><rect x="787.31" y="59.70" width="1.2" height="5.6" fill="#FF6AFF"/><path d="M101.40 318.95L105.05 322.60L101.40 326.25L97.75 322.60Z" fill="#FFFF6A"/><path d="M108.95 313.35L112.60 317.00L108.95 320.65L105.30 317.00Z" fill="#FFFF6A"/><path d="M116.49 307.65L120.14 311.30L116.49 314.95L112.84 311.30Z" fill="#FFFF6A"/><path d="M124.04 301.35L127.69 305.00L124.04 308.65L120.39 305.00Z" fill="#FFFF6A"/><path d="M131.58 298.15L135.23 301.80L131.58 305.45L127.93 301.80Z" fill="#FFFF6A"/><path d="M139.12 293.65L142.77 297.30L139.12 300.95L135.47 297.30Z" fill="#FFFF6A"/><path d="M146.67 292.60L150.32 296.25L146.67 299.90L143.02 296.25Z" fill="#FFFF6A"/><path d="M154.21 293.25L157.86 296.90L154.21 300.55L150.56 296.90Z" fill="#FFFF6A"/><path d="M161.76 291.95L165.41 295.60L161.76 299.25L158.11 295.60Z" fill="#FFFF6A"/><path d="M169.30 290.35L172.95 294.00L169.30 297.65L165.65 294.00Z" fill="#FFFF6A"/><path d="M176.84 288.25L180.49 291.90L176.84 295.55L173.19 291.90Z" fill="#FFFF6A"/><path d="M184.39 286.95L188.04 290.60L184.39 294.25L180.74 290.60Z" fill="#FFFF6A"/><path d="M191.93 287.75L195.58 291.40L191.93 295.05L188.28 291.40Z" fill="#FFFF6A"/><path d="M199.48 286.35L203.13 290.00L199.48 293.65L195.83 290.00Z" fill="#FFFF6A"/><path d="M207.02 284.10L210.67 287.75L207.02 291.40L203.37 287.75Z" fill="#FFFF6A"/><path d="M214.56 284.10L218.21 287.75L214.56 291.40L210.91 287.75Z" fill="#FFFF6A"/><path d="M222.11 282.95L225.76 286.60L222.11 290.25L218.46 286.60Z" fill="#FFFF6A"/><path d="M229.65 280.75L233.30 284.40L229.65 288.05L226.00 284.40Z" fill="#FFFF6A"/><path d="M237.20 280.35L240.85 284.00L237.20 287.65L233.55 284.00Z" fill="#FFFF6A"/><path d="M244.74 279.45L248.39 283.10L244.74 286.75L241.09 283.10Z" fill="#FFFF6A"/><path d="M252.28 279.85L255.93 283.50L252.28 287.15L248.63 283.50Z" fill="#FFFF6A"/><path d="M259.83 278.25L263.48 281.90L259.83 285.55L256.18 281.90Z" fill="#FFFF6A"/><path d="M267.37 276.95L271.02 280.60L267.37 284.25L263.72 280.60Z" fill="#FFFF6A"/><path d="M274.92 276.95L278.57 280.60L274.92 284.25L271.27 280.60Z" fill="#FFFF6A"/><path d="M282.46 275.35L286.11 279.00L282.46 282.65L278.81 279.00Z" fill="#FFFF6A"/><path d="M290.00 273.05L293.65 276.70L290.00 280.35L286.35 276.70Z" fill="#FFFF6A"/><path d="M297.55 273.60L301.20 277.25L297.55 280.90L293.90 277.25Z" fill="#FFFF6A"/><path d="M305.09 271.10L308.74 274.75L305.09 278.40L301.44 274.75Z" fill="#FFFF6A"/><path d="M312.64 270.85L316.29 274.50L312.64 278.15L308.99 274.50Z" fill="#FFFF6A"/><path d="M320.18 271.85L323.83 275.50L320.18 279.15L316.53 275.50Z" fill="#FFFF6A"/><path d="M327.72 270.85L331.37 274.50L327.72 278.15L324.07 274.50Z" fill="#FFFF6A"/><path d="M335.27 270.60L338.92 274.25L335.27 277.90L331.62 274.25Z" fill="#FFFF6A"/><path d="M342.81 268.35L346.46 272.00L342.81 275.65L339.16 272.00Z" fill="#FFFF6A"/><path d="M350.36 269.85L354.01 273.50L350.36 277.15L346.71 273.50Z" fill="#FFFF6A"/><path d="M357.90 267.75L361.55 271.40L357.90 275.05L354.25 271.40Z" fill="#FFFF6A"/><path d="M365.44 266.85L369.09 270.50L365.44 274.15L361.79 270.50Z" fill="#FFFF6A"/><path d="M372.99 268.10L376.64 271.75L372.99 275.40L369.34 271.75Z" fill="#FFFF6A"/><path d="M380.53 264.05L384.18 267.70L380.53 271.35L376.88 267.70Z" fill="#FFFF6A"/><path d="M388.08 266.10L391.73 269.75L388.08 273.40L384.43 269.75Z" fill="#FFFF6A"/><path d="M395.62 266.60L399.27 270.25L395.62 273.90L391.97 270.25Z" fill="#FFFF6A"/><path d="M403.16 264.10L406.81 267.75L403.16 271.40L399.51 267.75Z" fill="#FFFF6A"/><path d="M410.71 264.10L414.36 267.75L410.71 271.40L407.06 267.75Z" fill="#FFFF6A"/><path d="M418.25 261.35L421.90 265.00L418.25 268.65L414.60 265.00Z" fill="#FFFF6A"/><path d="M425.80 261.10L429.45 264.75L425.80 268.40L422.15 264.75Z" fill="#FFFF6A"/><path d="M433.34 258.85L436.99 262.50L433.34 266.15L429.69 262.50Z" fill="#FFFF6A"/><path d="M440.88 261.35L444.53 265.00L440.88 268.65L437.23 265.00Z" fill="#FFFF6A"/><path d="M448.43 259.45L452.08 263.10L448.43 266.75L444.78 263.10Z" fill="#FFFF6A"/><path d="M455.97 260.75L459.62 264.40L455.97 268.05L452.32 264.40Z" fill="#FFFF6A"/><path d="M463.52 255.35L467.17 259.00L463.52 262.65L459.87 259.00Z" fill="#FFFF6A"/><path d="M471.06 257.35L474.71 261.00L471.06 264.65L467.41 261.00Z" fill="#FFFF6A"/><path d="M478.60 254.15L482.25 257.80L478.60 261.45L474.95 257.80Z" fill="#FFFF6A"/><path d="M486.15 255.35L489.80 259.00L486.15 262.65L482.50 259.00Z" fill="#FFFF6A"/><path d="M493.69 249.10L497.34 252.75L493.69 256.40L490.04 252.75Z" fill="#FFFF6A"/><path d="M501.24 246.95L504.89 250.60L501.24 254.25L497.59 250.60Z" fill="#FFFF6A"/><path d="M508.78 245.95L512.43 249.60L508.78 253.25L505.13 249.60Z" fill="#FFFF6A"/><path d="M516.32 246.35L519.97 250.00L516.32 253.65L512.67 250.00Z" fill="#FFFF6A"/><path d="M523.87 229.85L527.52 233.50L523.87 237.15L520.22 233.50Z" fill="#FFFF6A"/><path d="M531.41 241.60L535.06 245.25L531.41 248.90L527.76 245.25Z" fill="#FFFF6A"/><path d="M538.96 230.10L542.61 233.75L538.96 237.40L535.31 233.75Z" fill="#FFFF6A"/><path d="M546.50 227.95L550.15 231.60L546.50 235.25L542.85 231.60Z" fill="#FFFF6A"/><path d="M554.04 225.35L557.69 229.00L554.04 232.65L550.39 229.00Z" fill="#FFFF6A"/><path d="M561.59 221.60L565.24 225.25L561.59 228.90L557.94 225.25Z" fill="#FFFF6A"/><path d="M569.13 214.10L572.78 217.75L569.13 221.40L565.48 217.75Z" fill="#FFFF6A"/><path d="M576.68 211.15L580.33 214.80L576.68 218.45L573.03 214.80Z" fill="#FFFF6A"/><path d="M584.22 212.35L587.87 216.00L584.22 219.65L580.57 216.00Z" fill="#FFFF6A"/><path d="M591.76 205.75L595.41 209.40L591.76 213.05L588.11 209.40Z" fill="#FFFF6A"/><path d="M599.31 200.75L602.96 204.40L599.31 208.05L595.66 204.40Z" fill="#FFFF6A"/><path d="M606.85 204.85L610.50 208.50L606.85 212.15L603.20 208.50Z" fill="#FFFF6A"/><path d="M614.40 200.95L618.05 204.60L614.40 208.25L610.75 204.60Z" fill="#FFFF6A"/><path d="M621.94 198.85L625.59 202.50L621.94 206.15L618.29 202.50Z" fill="#FFFF6A"/><path d="M629.48 197.35L633.13 201.00L629.48 204.65L625.83 201.00Z" fill="#FFFF6A"/><path d="M637.03 196.35L640.68 200.00L637.03 203.65L633.38 200.00Z" fill="#FFFF6A"/><path d="M644.57 193.85L648.22 197.50L644.57 201.15L640.92 197.50Z" fill="#FFFF6A"/><path d="M652.12 190.95L655.77 194.60L652.12 198.25L648.47 194.60Z" fill="#FFFF6A"/><path d="M659.66 187.75L663.31 191.40L659.66 195.05L656.01 191.40Z" fill="#FFFF6A"/><path d="M667.20 187.85L670.85 191.50L667.20 195.15L663.55 191.50Z" fill="#FFFF6A"/><path d="M674.75 187.35L678.40 191.00L674.75 194.65L671.10 191.00Z" fill="#FFFF6A"/><path d="M682.29 186.10L685.94 189.75L682.29 193.40L678.64 189.75Z" fill="#FFFF6A"/><path d="M689.84 181.35L693.49 185.00L689.84 188.65L686.19 185.00Z" fill="#FFFF6A"/><path d="M697.38 181.95L701.03 185.60L697.38 189.25L693.73 185.60Z" fill="#FFFF6A"/><path d="M704.92 181.60L708.57 185.25L704.92 188.90L701.27 185.25Z" fill="#FFFF6A"/><path d="M712.47 181.95L716.12 185.60L712.47 189.25L708.82 185.60Z" fill="#FFFF6A"/><path d="M720.01 176.15L723.66 179.80L720.01 183.45L716.36 179.80Z" fill="#FFFF6A"/><path d="M727.56 171.95L731.21 175.60L727.56 179.25L723.91 175.60Z" fill="#FFFF6A"/><path d="M735.10 167.35L738.75 171.00L735.10 174.65L731.45 171.00Z" fill="#FFFF6A"/><path d="M742.64 167.85L746.29 171.50L742.64 175.15L738.99 171.50Z" fill="#FFFF6A"/><path d="M750.19 170.75L753.84 174.40L750.19 178.05L746.54 174.40Z" fill="#FFFF6A"/><path d="M757.73 161.15L761.38 164.80L757.73 168.45L754.08 164.80Z" fill="#FFFF6A"/><path d="M765.28 56.10L768.93 59.75L765.28 63.40L761.63 59.75Z" fill="#FFFF6A"/><path d="M772.82 72.95L776.47 76.60L772.82 80.25L769.17 76.60Z" fill="#FFFF6A"/><path d="M780.36 68.25L784.01 71.90L780.36 75.55L776.71 71.90Z" fill="#FFFF6A"/><path d="M787.91 68.60L791.56 72.25L787.91 75.90L784.26 72.25Z" fill="#FFFF6A"/><path d="M101.40 321.65L105.05 328.95L97.75 328.95Z" fill="#6AFF6A"/><path d="M108.95 313.95L112.60 321.25L105.30 321.25Z" fill="#6AFF6A"/><path d="M116.49 307.35L120.14 314.65L112.84 314.65Z" fill="#6AFF6A"/><path d="M124.04 303.15L127.69 310.45L120.39 310.45Z" fill="#6AFF6A"/><path d="M131.58 299.15L135.23 306.45L127.93 306.45Z" fill="#6AFF6A"/><path d="M139.12 295.45L142.77 302.75L135.47 302.75Z" fill="#6AFF6A"/><path d="M146.67 294.15L150.32 301.45L143.02 301.45Z" fill="#6AFF6A"/><path d="M154.21 294.15L157.86 301.45L150.56 301.45Z" fill="#6AFF6A"/><path d="M161.76 293.65L165.41 300.95L158.11 300.95Z" fill="#6AFF6A"/><path d="M169.30 293.65L172.95 300.95L165.65 300.95Z" fill="#6AFF6A"/><path d="M176.84 293.65L180.49 300.95L173.19 300.95Z" fill="#6AFF6A"/><path d="M184.39 293.05L188.04 300.35L180.74 300.35Z" fill="#6AFF6A"/><path d="M191.93 292.95L195.58 300.25L188.28 300.25Z" fill="#6AFF6A"/><path d="M199.48 293.75L203.13 301.05L195.83 301.05Z" fill="#6AFF6A"/><path d="M207.02 290.40L210.67 297.70L203.37 297.70Z" fill="#6AFF6A"/><path d="M214.56 291.25L218.21 298.55L210.91 298.55Z" fill="#6AFF6A"/><path d="M222.11 290.05L225.76 297.35L218.46 297.35Z" fill="#6AFF6A"/><path d="M229.65 288.35L233.30 295.65L226.00 295.65Z" fill="#6AFF6A"/><path d="M237.20 289.25L240.85 296.55L233.55 296.55Z" fill="#6AFF6A"/><path d="M244.74 286.45L248.39 293.75L241.09 293.75Z" fill="#6AFF6A"/><path d="M252.28 288.35L255.93 295.65L248.63 295.65Z" fill="#6AFF6A"/><path d="M259.83 288.35L263.48 295.65L256.18 295.65Z" fill="#6AFF6A"/><path d="M267.37 285.55L271.02 292.85L263.72 292.85Z" fill="#6AFF6A"/><path d="M274.92 287.55L278.57 294.85L271.27 294.85Z" fill="#6AFF6A"/><path d="M282.46 282.05L286.11 289.35L278.81 289.35Z" fill="#6AFF6A"/><path d="M290.00 278.85L293.65 286.15L286.35 286.15Z" fill="#6AFF6A"/><path d="M297.55 281.55L301.20 288.85L293.90 288.85Z" fill="#6AFF6A"/><path d="M305.09 277.65L308.74 284.95L301.44 284.95Z" fill="#6AFF6A"/><path d="M312.64 278.35L316.29 285.65L308.99 285.65Z" fill="#6AFF6A"/><path d="M320.18 282.55L323.83 289.85L316.53 289.85Z" fill="#6AFF6A"/><path d="M327.72 278.90L331.37 286.20L324.07 286.20Z" fill="#6AFF6A"/><path d="M335.27 280.05L338.92 287.35L331.62 287.35Z" fill="#6AFF6A"/><path d="M342.81 278.35L346.46 285.65L339.16 285.65Z" fill="#6AFF6A"/><path d="M350.36 282.55L354.01 289.85L346.71 289.85Z" fill="#6AFF6A"/><path d="M357.90 277.40L361.55 284.70L354.25 284.70Z" fill="#6AFF6A"/><path d="M365.44 280.25L369.09 287.55L361.79 287.55Z" fill="#6AFF6A"/><path d="M372.99 285.05L376.64 292.35L369.34 292.35Z" fill="#6AFF6A"/><path d="M380.53 271.45L384.18 278.75L376.88 278.75Z" fill="#6AFF6A"/><path d="M388.08 279.05L391.73 286.35L384.43 286.35Z" fill="#6AFF6A"/><path d="M395.62 285.55L399.27 292.85L391.97 292.85Z" fill="#6AFF6A"/><path d="M403.16 275.65L406.81 282.95L399.51 282.95Z" fill="#6AFF6A"/><path d="M410.71 277.05L414.36 284.35L407.06 284.35Z" fill="#6AFF6A"/><path d="M418.25 271.35L421.90 278.65L414.60 278.65Z" fill="#6AFF6A"/><path d="M425.80 272.55L429.45 279.85L422.15 279.85Z" fill="#6AFF6A"/><path d="M433.34 268.35L436.99 275.65L429.69 275.65Z" fill="#6AFF6A"/><path d="M440.88 279.55L444.53 286.85L437.23 286.85Z" fill="#6AFF6A"/><path d="M448.43 278.35L452.08 285.65L444.78 285.65Z" fill="#6AFF6A"/><path d="M455.97 285.05L459.62 292.35L452.32 292.35Z" fill="#6AFF6A"/><path d="M463.52 266.75L467.17 274.05L459.87 274.05Z" fill="#6AFF6A"/><path d="M471.06 278.35L474.71 285.65L467.41 285.65Z" fill="#6AFF6A"/><path d="M478.60 266.90L482.25 274.20L474.95 274.20Z" fill="#6AFF6A"/><path d="M486.15 271.05L489.80 278.35L482.50 278.35Z" fill="#6AFF6A"/><path d="M493.69 268.35L497.34 275.65L490.04 275.65Z" fill="#6AFF6A"/><path d="M501.24 272.55L504.89 279.85L497.59 279.85Z" fill="#6AFF6A"/><path d="M508.78 266.90L512.43 274.20L505.13 274.20Z" fill="#6AFF6A"/><path d="M516.32 259.75L519.97 267.05L512.67 267.05Z" fill="#6AFF6A"/><path d="M523.87 269.45L527.52 276.75L520.22 276.75Z" fill="#6AFF6A"/><path d="M531.41 268.35L535.06 275.65L527.76 275.65Z" fill="#6AFF6A"/><path d="M538.96 264.40L542.61 271.70L535.31 271.70Z" fill="#6AFF6A"/><path d="M546.50 258.45L550.15 265.75L542.85 265.75Z" fill="#6AFF6A"/><path d="M554.04 259.25L557.69 266.55L550.39 266.55Z" fill="#6AFF6A"/><path d="M561.59 262.35L565.24 269.65L557.94 269.65Z" fill="#6AFF6A"/><path d="M569.13 256.75L572.78 264.05L565.48 264.05Z" fill="#6AFF6A"/><path d="M576.68 257.15L580.33 264.45L573.03 264.45Z" fill="#6AFF6A"/><path d="M584.22 255.25L587.87 262.55L580.57 262.55Z" fill="#6AFF6A"/><path d="M591.76 248.05L595.41 255.35L588.11 255.35Z" fill="#6AFF6A"/><path d="M599.31 246.05L602.96 253.35L595.66 253.35Z" fill="#6AFF6A"/><path d="M606.85 246.05L610.50 253.35L603.20 253.35Z" fill="#6AFF6A"/><path d="M614.40 236.55L618.05 243.85L610.75 243.85Z" fill="#6AFF6A"/><path d="M621.94 236.65L625.59 243.95L618.29 243.95Z" fill="#6AFF6A"/><path d="M629.48 222.25L633.13 229.55L625.83 229.55Z" fill="#6AFF6A"/><path d="M637.03 218.75L640.68 226.05L633.38 226.05Z" fill="#6AFF6A"/><path d="M644.57 210.55L648.22 217.85L640.92 217.85Z" fill="#6AFF6A"/><path d="M652.12 204.55L655.77 211.85L648.47 211.85Z" fill="#6AFF6A"/><path d="M659.66 198.55L663.31 205.85L656.01 205.85Z" fill="#6AFF6A"/><path d="M667.20 198.55L670.85 205.85L663.55 205.85Z" fill="#6AFF6A"/><path d="M674.75 197.65L678.40 204.95L671.10 204.95Z" fill="#6AFF6A"/><path d="M682.29 195.55L685.94 202.85L678.64 202.85Z" fill="#6AFF6A"/><path d="M689.84 189.45L693.49 196.75L686.19 196.75Z" fill="#6AFF6A"/><path d="M697.38 188.75L701.03 196.05L693.73 196.05Z" fill="#6AFF6A"/><path d="M704.92 190.55L708.57 197.85L701.27 197.85Z" fill="#6AFF6A"/><path d="M712.47 188.55L716.12 195.85L708.82 195.85Z" fill="#6AFF6A"/><path d="M720.01 183.25L723.66 190.55L716.36 190.55Z" fill="#6AFF6A"/><path d="M727.56 181.45L731.21 188.75L723.91 188.75Z" fill="#6AFF6A"/><path d="M735.10 175.15L738.75 182.45L731.45 182.45Z" fill="#6AFF6A"/><path d="M742.64 173.45L746.29 180.75L738.99 180.75Z" fill="#6AFF6A"/><path d="M750.19 175.15L753.84 182.45L746.54 182.45Z" fill="#6AFF6A"/><path d="M757.73 166.15L761.38 173.45L754.08 173.45Z" fill="#6AFF6A"/><path d="M765.28 63.35L768.93 70.65L761.63 70.65Z" fill="#6AFF6A"/><path d="M772.82 84.25L776.47 91.55L769.17 91.55Z" fill="#6AFF6A"/><path d="M780.36 73.35L784.01 80.65L776.71 80.65Z" fill="#6AFF6A"/><path d="M787.91 73.35L791.56 80.65L784.26 80.65Z" fill="#6AFF6A"/><circle cx="101.40" cy="329.50" r="3.45" fill="#6A6AFF"/><circle cx="108.95" cy="323.60" r="3.45" fill="#6A6AFF"/><circle cx="116.49" cy="320.40" r="3.45" fill="#6A6AFF"/><circle cx="124.04" cy="315.60" r="3.45" fill="#6A6AFF"/><circle cx="131.58" cy="309.30" r="3.45" fill="#6A6AFF"/><circle cx="139.12" cy="307.40" r="3.45" fill="#6A6AFF"/><circle cx="146.67" cy="307.25" r="3.45" fill="#6A6AFF"/><circle cx="154.21" cy="307.25" r="3.45" fill="#6A6AFF"/><circle cx="161.76" cy="307.25" r="3.45" fill="#6A6AFF"/><circle cx="169.30" cy="306.90" r="3.45" fill="#6A6AFF"/><circle cx="176.84" cy="305.60" r="3.45" fill="#6A6AFF"/><circle cx="184.39" cy="305.60" r="3.45" fill="#6A6AFF"/><circle cx="191.93" cy="305.60" r="3.45" fill="#6A6AFF"/><circle cx="199.48" cy="305.90" r="3.45" fill="#6A6AFF"/><circle cx="207.02" cy="305.90" r="3.45" fill="#6A6AFF"/><circle cx="214.56" cy="305.90" r="3.45" fill="#6A6AFF"/><circle cx="222.11" cy="305.90" r="3.45" fill="#6A6AFF"/><circle cx="229.65" cy="305.90" r="3.45" fill="#6A6AFF"/><circle cx="237.20" cy="305.90" r="3.45" fill="#6A6AFF"/><circle cx="244.74" cy="304.40" r="3.45" fill="#6A6AFF"/><circle cx="252.28" cy="305.90" r="3.45" fill="#6A6AFF"/><circle cx="259.83" cy="304.40" r="3.45" fill="#6A6AFF"/><circle cx="267.37" cy="304.40" r="3.45" fill="#6A6AFF"/><circle cx="274.92" cy="304.40" r="3.45" fill="#6A6AFF"/><circle cx="282.46" cy="304.40" r="3.45" fill="#6A6AFF"/><circle cx="290.00" cy="304.30" r="3.45" fill="#6A6AFF"/><circle cx="297.55" cy="304.25" r="3.45" fill="#6A6AFF"/><circle cx="305.09" cy="304.25" r="3.45" fill="#6A6AFF"/><circle cx="312.64" cy="304.25" r="3.45" fill="#6A6AFF"/><circle cx="320.18" cy="304.25" r="3.45" fill="#6A6AFF"/><circle cx="327.72" cy="304.25" r="3.45" fill="#6A6AFF"/><circle cx="335.27" cy="304.25" r="3.45" fill="#6A6AFF"/><circle cx="342.81" cy="304.25" r="3.45" fill="#6A6AFF"/><circle cx="350.36" cy="304.25" r="3.45" fill="#6A6AFF"/><circle cx="357.90" cy="304.25" r="3.45" fill="#6A6AFF"/><circle cx="365.44" cy="302.60" r="3.45" fill="#6A6AFF"/><circle cx="372.99" cy="304.25" r="3.45" fill="#6A6AFF"/><circle cx="380.53" cy="304.30" r="3.45" fill="#6A6AFF"/><circle cx="388.08" cy="304.50" r="3.45" fill="#6A6AFF"/><circle cx="395.62" cy="304.40" r="3.45" fill="#6A6AFF"/><circle cx="403.16" cy="304.40" r="3.45" fill="#6A6AFF"/><circle cx="410.71" cy="304.40" r="3.45" fill="#6A6AFF"/><circle cx="418.25" cy="302.50" r="3.45" fill="#6A6AFF"/><circle cx="425.80" cy="302.50" r="3.45" fill="#6A6AFF"/><circle cx="433.34" cy="302.50" r="3.45" fill="#6A6AFF"/><circle cx="440.88" cy="302.75" r="3.45" fill="#6A6AFF"/><circle cx="448.43" cy="302.75" r="3.45" fill="#6A6AFF"/><circle cx="455.97" cy="302.75" r="3.45" fill="#6A6AFF"/><circle cx="463.52" cy="302.75" r="3.45" fill="#6A6AFF"/><circle cx="471.06" cy="302.75" r="3.45" fill="#6A6AFF"/><circle cx="478.60" cy="302.75" r="3.45" fill="#6A6AFF"/><circle cx="486.15" cy="302.75" r="3.45" fill="#6A6AFF"/><circle cx="493.69" cy="302.75" r="3.45" fill="#6A6AFF"/><circle cx="501.24" cy="302.75" r="3.45" fill="#6A6AFF"/><circle cx="508.78" cy="301.00" r="3.45" fill="#6A6AFF"/><circle cx="516.32" cy="301.00" r="3.45" fill="#6A6AFF"/><circle cx="523.87" cy="302.75" r="3.45" fill="#6A6AFF"/><circle cx="531.41" cy="302.75" r="3.45" fill="#6A6AFF"/><circle cx="538.96" cy="301.00" r="3.45" fill="#6A6AFF"/><circle cx="546.50" cy="301.00" r="3.45" fill="#6A6AFF"/><circle cx="554.04" cy="301.00" r="3.45" fill="#6A6AFF"/><circle cx="561.59" cy="301.00" r="3.45" fill="#6A6AFF"/><circle cx="569.13" cy="301.00" r="3.45" fill="#6A6AFF"/><circle cx="576.68" cy="301.10" r="3.45" fill="#6A6AFF"/><circle cx="584.22" cy="300.00" r="3.45" fill="#6A6AFF"/><circle cx="591.76" cy="298.75" r="3.45" fill="#6A6AFF"/><circle cx="599.31" cy="298.75" r="3.45" fill="#6A6AFF"/><circle cx="606.85" cy="298.75" r="3.45" fill="#6A6AFF"/><circle cx="614.40" cy="298.75" r="3.45" fill="#6A6AFF"/><circle cx="621.94" cy="297.50" r="3.45" fill="#6A6AFF"/><circle cx="629.48" cy="298.75" r="3.45" fill="#6A6AFF"/><circle cx="637.03" cy="297.50" r="3.45" fill="#6A6AFF"/><circle cx="644.57" cy="296.25" r="3.45" fill="#6A6AFF"/><circle cx="652.12" cy="296.25" r="3.45" fill="#6A6AFF"/><circle cx="659.66" cy="294.40" r="3.45" fill="#6A6AFF"/><circle cx="667.20" cy="295.25" r="3.45" fill="#6A6AFF"/><circle cx="674.75" cy="295.25" r="3.45" fill="#6A6AFF"/><circle cx="682.29" cy="292.25" r="3.45" fill="#6A6AFF"/><circle cx="689.84" cy="286.90" r="3.45" fill="#6A6AFF"/><circle cx="697.38" cy="282.00" r="3.45" fill="#6A6AFF"/><circle cx="704.92" cy="280.00" r="3.45" fill="#6A6AFF"/><circle cx="712.47" cy="274.00" r="3.45" fill="#6A6AFF"/><circle cx="720.01" cy="260.40" r="3.45" fill="#6A6AFF"/><circle cx="727.56" cy="261.25" r="3.45" fill="#6A6AFF"/><circle cx="735.10" cy="247.25" r="3.45" fill="#6A6AFF"/><circle cx="742.64" cy="240.90" r="3.45" fill="#6A6AFF"/><circle cx="750.19" cy="235.60" r="3.45" fill="#6A6AFF"/><circle cx="757.73" cy="217.25" r="3.45" fill="#6A6AFF"/><circle cx="765.28" cy="97.90" r="3.45" fill="#6A6AFF"/><circle cx="772.82" cy="107.25" r="3.45" fill="#6A6AFF"/><circle cx="780.36" cy="109.00" r="3.45" fill="#6A6AFF"/><circle cx="787.91" cy="101.25" r="3.45" fill="#6A6AFF"/></g><rect x="761.83" y="166.30" width="6.9" height="6.9" fill="#FF7A7A"/><rect x="769.37" y="152.75" width="6.9" height="6.9" fill="#FF7A7A"/><rect x="776.91" y="151.05" width="6.9" height="6.9" fill="#FF7A7A"/><rect x="784.46" y="172.80" width="6.9" height="6.9" fill="#FF7A7A"/></svg><g shape-rendering="crispEdges"><rect x="353" y="10" width="2" height="318" fill="#FFC800"/><rect x="757" y="10" width="2" height="318" fill="#FF0000"/><line x1="94" y1="10.5" x2="789" y2="10.5" stroke="#808080" stroke-width="1"/><line x1="788.5" y1="10" x2="788.5" y2="328" stroke="#808080" stroke-width="1"/><line x1="94.5" y1="10" x2="94.5" y2="328" stroke="#666666" stroke-width="1"/><line x1="94" y1="327.5" x2="789" y2="327.5" stroke="#6a6a6a" stroke-width="1"/><line x1="90.5" y1="10" x2="90.5" y2="328" stroke="#c0c0c0" stroke-width="1"/><line x1="94" y1="331.5" x2="789" y2="331.5" stroke="#c0c0c0" stroke-width="1"/><line x1="94.5" y1="331" x2="94.5" y2="334" stroke="#707070" stroke-width="1"/><line x1="165.5" y1="331" x2="165.5" y2="334" stroke="#707070" stroke-width="1"/><line x1="237.5" y1="331" x2="237.5" y2="334" stroke="#707070" stroke-width="1"/><line x1="309.5" y1="331" x2="309.5" y2="334" stroke="#707070" stroke-width="1"/><line x1="381.5" y1="331" x2="381.5" y2="334" stroke="#707070" stroke-width="1"/><line x1="453.5" y1="331" x2="453.5" y2="334" stroke="#707070" stroke-width="1"/><line x1="524.5" y1="331" x2="524.5" y2="334" stroke="#707070" stroke-width="1"/><line x1="596.5" y1="331" x2="596.5" y2="334" stroke="#707070" stroke-width="1"/><line x1="668.5" y1="331" x2="668.5" y2="334" stroke="#707070" stroke-width="1"/><line x1="740.5" y1="331" x2="740.5" y2="334" stroke="#707070" stroke-width="1"/></g><g font-family="'DejaVu Sans', sans-serif" font-size="9.4" fill="#000" stroke="#000" stroke-width="0.22"><text transform="translate(354.1,21.9) scale(0.8,1)" x="0" y="0" text-anchor="middle" textLength="67.87" lengthAdjust="spacing">critical-jOPS</text><text transform="translate(758.1,21.9) scale(0.8,1)" x="0" y="0" text-anchor="middle" textLength="53.12" lengthAdjust="spacing">max-jOPS</text></g><g font-family="'DejaVu Sans', sans-serif" font-size="10.8" fill="#000" stroke="#000" stroke-width="0.15" text-anchor="end"><text transform="translate(83.4,322.11) scale(0.8,1)" x="0" y="0" textLength="29.40" lengthAdjust="spacing">1000</text><text transform="translate(83.4,262.45) scale(0.8,1)" x="0" y="0" textLength="36.69" lengthAdjust="spacing">10000</text><text transform="translate(83.4,202.79) scale(0.8,1)" x="0" y="0" textLength="43.98" lengthAdjust="spacing">100000</text><text transform="translate(83.4,143.13) scale(0.8,1)" x="0" y="0" textLength="51.26" lengthAdjust="spacing">1000000</text><text transform="translate(83.4,83.47) scale(0.8,1)" x="0" y="0" textLength="58.55" lengthAdjust="spacing">10000000</text><text transform="translate(83.4,23.81) scale(0.8,1)" x="0" y="0" textLength="65.84" lengthAdjust="spacing">100000000</text></g><g font-family="'DejaVu Sans', sans-serif" font-size="12" fill="#4a4a4a" text-anchor="middle"><text x="94.5" y="346">0</text><text x="165.8" y="346" textLength="43.2" lengthAdjust="spacing">10,000</text><text x="237.8" y="346" textLength="43.2" lengthAdjust="spacing">20,000</text><text x="309.8" y="346" textLength="43.2" lengthAdjust="spacing">30,000</text><text x="381.8" y="346" textLength="43.2" lengthAdjust="spacing">40,000</text><text x="453.8" y="346" textLength="43.2" lengthAdjust="spacing">50,000</text><text x="524.8" y="346" textLength="43.2" lengthAdjust="spacing">60,000</text><text x="596.8" y="346" textLength="43.2" lengthAdjust="spacing">70,000</text><text x="668.8" y="346" textLength="43.2" lengthAdjust="spacing">80,000</text><text x="740.8" y="346" textLength="43.2" lengthAdjust="spacing">90,000</text></g><text x="440.25" y="364.75" font-family="'DejaVu Sans', sans-serif" font-size="13.2" fill="#222" stroke="#222" stroke-width="0.4" text-anchor="middle" textLength="34" lengthAdjust="spacingAndGlyphs">jOPS</text><text transform="translate(22,168.9) rotate(-90)" x="0" y="0" font-family="'DejaVu Sans', sans-serif" font-size="12" fill="#222" text-anchor="middle" textLength="118" lengthAdjust="spacingAndGlyphs">Response time, usec</text><rect x="140.5" y="377.5" width="519" height="21" fill="#fff" stroke="#000" stroke-width="1" shape-rendering="crispEdges"/><rect x="147.6" y="384.6" width="6.8" height="6.8" fill="#FF5555"/><circle cx="196" cy="388" r="3.55" fill="#5555FF"/><path d="M263.1 384.3L266.8 391.6L259.4 391.6Z" fill="#55FF55"/><path d="M382 384.6L385.5 388.1L382 391.6L378.5 388.1Z" fill="#FFFF55"/><rect x="497.6" y="386.3" width="6.9" height="3.5" fill="#FF55FF"/><path d="M620 391.7L623.8 384.3L616.2 384.3Z" fill="#55FFFF"/><g font-family="'DejaVu Sans', sans-serif" font-size="12" fill="#333"><text x="162.5" y="392" textLength="20.0" lengthAdjust="spacingAndGlyphs">min</text><text x="207.5" y="392" textLength="42.0" lengthAdjust="spacingAndGlyphs">median</text><text x="274.6" y="392" textLength="93.4" lengthAdjust="spacingAndGlyphs">90-th percentile</text><text x="393.5" y="392" textLength="93.4" lengthAdjust="spacingAndGlyphs">95-th percentile</text><text x="512.6" y="392" textLength="93.4" lengthAdjust="spacingAndGlyphs">99-th percentile</text><text x="631.5" y="392" textLength="23.8" lengthAdjust="spacingAndGlyphs">max</text></g></svg></body></html>
